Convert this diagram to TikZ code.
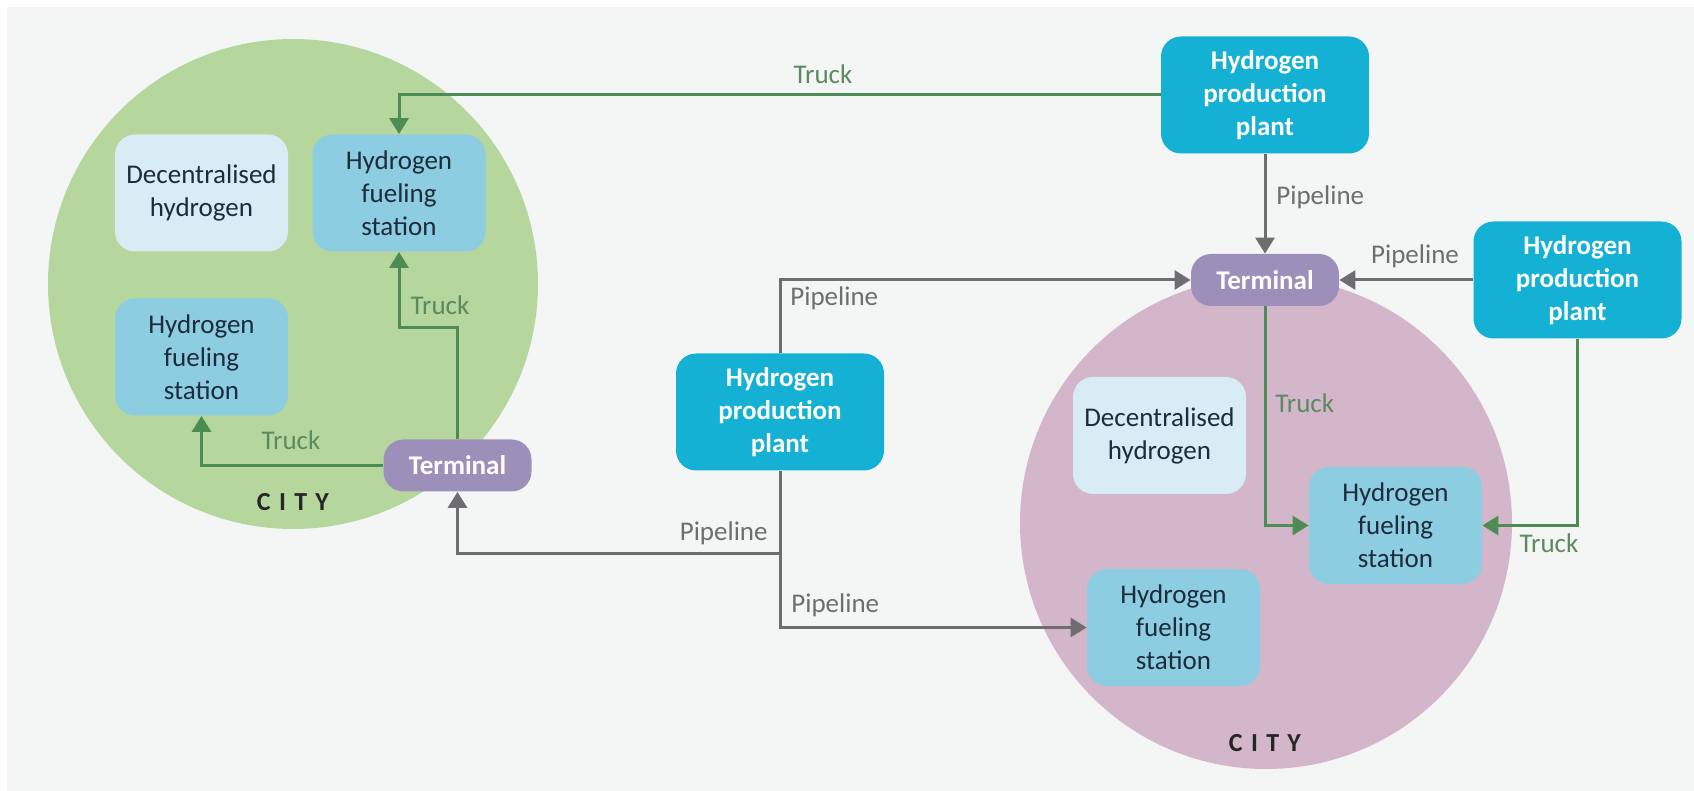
\documentclass[tikz,border=0pt]{standalone}
\usepackage{fontspec}
\setmainfont{Carlito}
\usetikzlibrary{arrows.meta}
\definecolor{bgc}{HTML}{F4F6F6}
\definecolor{cityg}{HTML}{B5D79D}
\definecolor{cityp}{HTML}{D4B6CA}
\definecolor{decc}{HTML}{D7ECF4}
\definecolor{fuelc}{HTML}{8CCDE2}
\definecolor{plantc}{HTML}{14B1D4}
\definecolor{termc}{HTML}{9C8FBA}
\definecolor{pipec}{HTML}{6E6E71}
\definecolor{truckc}{HTML}{4E8C56}
\definecolor{trucktxt}{HTML}{5C8A5F}
\definecolor{darktxt}{HTML}{1E2B3A}
\begin{document}
\begin{tikzpicture}[x=0.5pt,y=-0.5pt,
  every node/.style={font=\fontsize{13.5}{16.5}\selectfont},
  citynode/.style={circle,inner sep=0pt,minimum size=#1},
  boxnode/.style={rectangle,rounded corners=10pt,inner sep=0pt,align=center,minimum width=86.5pt,minimum height=58.5pt},
  decbox/.style={boxnode,fill=decc,text=darktxt},
  fuelbox/.style={boxnode,fill=fuelc,text=darktxt},
  plantbox/.style={boxnode,fill=plantc,text=white,font=\fontsize{13.5}{16.5}\selectfont\bfseries,minimum width=104pt},
  termbox/.style={rectangle,rounded corners=10pt,inner sep=0pt,fill=termc,text=white,font=\fontsize{13.5}{16.5}\selectfont\bfseries,minimum width=74pt,minimum height=26pt},
  pline/.style={draw=pipec,line width=1.5pt,-{Triangle[length=8pt,width=9.5pt]}},
  gline/.style={draw=truckc,line width=1.5pt,-{Triangle[length=8pt,width=9.5pt]}},
  plbl/.style={text=pipec,inner sep=0pt},
  tlbl/.style={text=trucktxt,inner sep=0pt},
  citylbl/.style={text=black!85,inner sep=0pt,font=\fontsize{13}{15}\selectfont\bfseries\addfontfeature{LetterSpace=32}}
]
\useasboundingbox (0,0) rectangle (1694,791);
\fill[white] (0,0) rectangle (1694,791);
\fill[bgc] (7,7) rectangle (1694,791);

% cities
\node[citynode=245pt,fill=cityg] (cityL) at (293,284) {};
\node[citynode=246pt,fill=cityp] (cityR) at (1266,523) {};

% left city
\node[decbox] (decL) at (201.5,193) {Decentralised\\hydrogen};
\node[fuelbox] (fsL1) at (399,193) {Hydrogen\\fueling\\station};
\node[fuelbox] (fsL2) at (201.5,357) {Hydrogen\\fueling\\station};
\node[termbox] (termL) at (457.5,465.5) {Terminal};
\node[citylbl] (cityLlbl) at (293,502) {CITY};

% right city
\node[termbox] (termR) at (1265,280) {Terminal};
\node[decbox] (decR) at (1159.5,435.5) {Decentralised\\hydrogen};
\node[fuelbox] (fsR1) at (1395.5,525.5) {Hydrogen\\fueling\\station};
\node[fuelbox] (fsR2) at (1173.5,627.5) {Hydrogen\\fueling\\station};
\node[citylbl] (cityRlbl) at (1265,743) {CITY};

% plants
\node[plantbox] (plantT) at (1265,95) {Hydrogen\\production\\plant};
\node[plantbox] (plantM) at (780,412) {Hydrogen\\production\\plant};
\node[plantbox] (plantR) at (1577.5,280) {Hydrogen\\production\\plant};

% truck connectors
\draw[gline] (plantT.west) -| (fsL1.north);
\draw[gline] (termL.north) -- ++(0,-112) -| (fsL1.south);
\draw[gline] (termL.west) -| (fsL2.south);
\draw[gline] (termR.south) |- (fsR1.west);
\draw[gline] (plantR.south) |- (fsR1.east);

% pipeline connectors
\draw[pline] (plantT.south) -- (termR.north);
\draw[pline] (plantM.north) |- (termR.west);
\draw[pline] (plantR.west) -- (termR.east);
\coordinate (br) at (780,553);
\draw[pline] (plantM.south) -- (br) -| (termL.south);
\draw[pline] (br) |- (fsR2.west);

% labels
\node[tlbl] (t1) at (823,74) {Truck};
\node[tlbl] (t2) at (440,305) {Truck};
\node[tlbl] (t3) at (291,440) {Truck};
\node[tlbl,anchor=west] (t4) at (1275,403) {Truck};
\node[tlbl] (t5) at (1549,543) {Truck};
\node[plbl,anchor=west] (p1) at (1276,197) {Pipeline};
\node[plbl,anchor=west] (p2) at (790,298) {Pipeline};
\node[plbl] (p3) at (1415,256) {Pipeline};
\node[plbl,anchor=east] (p4) at (768,533) {Pipeline};
\node[plbl,anchor=west] (p5) at (791,605) {Pipeline};
\end{tikzpicture}
\end{document}
